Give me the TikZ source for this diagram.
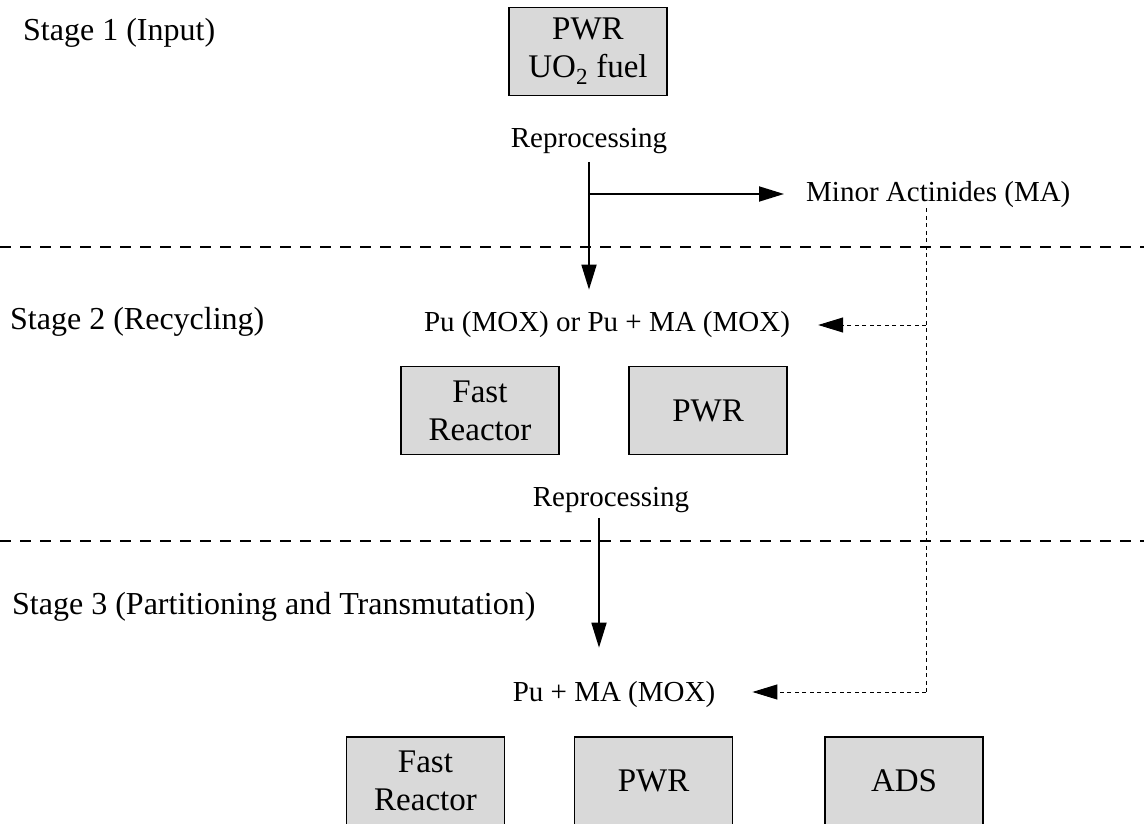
\documentclass[tikz,border=0pt]{standalone}
\usepackage{fontspec}
\setmainfont{Liberation Serif}
\usetikzlibrary{arrows.meta, positioning}

\begin{document}
\begin{tikzpicture}[
		x=1pt, y=-1pt,
		>={Triangle[length=25pt, width=15pt]},
		reactor/.style={rectangle, draw=black, fill=black!15, line width=1.6pt, minimum width=158pt, minimum height=88pt, inner sep=0pt, align=center, font=\fontsize{33}{38}\selectfont},
		stage_text/.style={anchor=west, inner sep=0pt, font=\fontsize{32}{38}\selectfont},
		flow_text/.style={inner sep=0pt, font=\fontsize{29}{34}\selectfont},
		flow/.style={->, line width=1.8pt},
		recycle/.style={line width=1pt, dash pattern=on 4pt off 3.5pt},
		boundary/.style={line width=1.2pt, dash pattern=on 11pt off 9pt}
		]
		\useasboundingbox (0,0) rectangle (1144,824);
		
		% Stage labels (left column)
		\node[stage_text] (stage1) at (23,33) {Stage 1 (Input)};
		\node[stage_text] (stage2) at (10,322) {Stage 2 (Recycling)};
		\node[stage_text] (stage3) at (12,607) {Stage 3 (Partitioning and Transmutation)};
		
		% Stage boundaries
		\coordinate (b1_left) at (0,247);
		\coordinate (b1_right) at (1144,247);
		\coordinate (b2_left) at (0,541);
		\coordinate (b2_right) at (1144,541);
		\draw[boundary] (b1_left) -- (b1_right);
		\draw[boundary] (b2_left) -- (b2_right);
		
		% Stage 1
		\node[reactor] (pwr_in) at (588,51.5) {PWR\\UO\textsubscript{2} fuel};
		\node[flow_text] (rep1) at (589,141) {Reprocessing};
		\node[flow_text, anchor=west] (ma) at (806,195) {Minor Actinides (MA)};
		
		% Stage 2
		\node[flow_text] (mox2) at (607,325) {Pu (MOX) or Pu + MA (MOX)};
		\node[reactor] (fast2) at (480,410.5) {Fast\\Reactor};
		\node[reactor] (pwr2) at (708,410.5) {PWR};
		\node[flow_text] (rep2) at (611,500) {Reprocessing};
		
		% Stage 3
		\node[flow_text] (mox3) at (614,695) {Pu + MA (MOX)};
		\node[reactor] (fast3) at (425.5,781) {Fast\\Reactor};
		\node[reactor] (pwr3) at (653.5,781) {PWR};
		\node[reactor] (ads3) at (904,781) {ADS};
		
		% Reprocessing flows
		\coordinate (split) at (589,194);
		\draw[flow, shorten <=8pt, shorten >=22pt] (rep1.south) -- (rep1.south |- mox2.north);
		\draw[flow, shorten >=22pt] (split) -- (split -| ma.west);
		\draw[flow, shorten <=5pt, shorten >=34pt] ([xshift=-12pt]rep2.south) -- ([xshift=-12pt]rep2.south |- mox3.north);
		
		% MA recycling (dotted)
		\coordinate (ma_bend) at (926,692);
		\draw[recycle] (ma.south -| ma_bend) -- (ma_bend);
		\draw[recycle, ->, shorten >=28pt] (ma_bend |- mox2) -- (mox2.east);
		\draw[recycle, ->, shorten >=37pt] (ma_bend) -- (ma_bend -| mox3.east);
		
	\end{tikzpicture}
\end{document}
